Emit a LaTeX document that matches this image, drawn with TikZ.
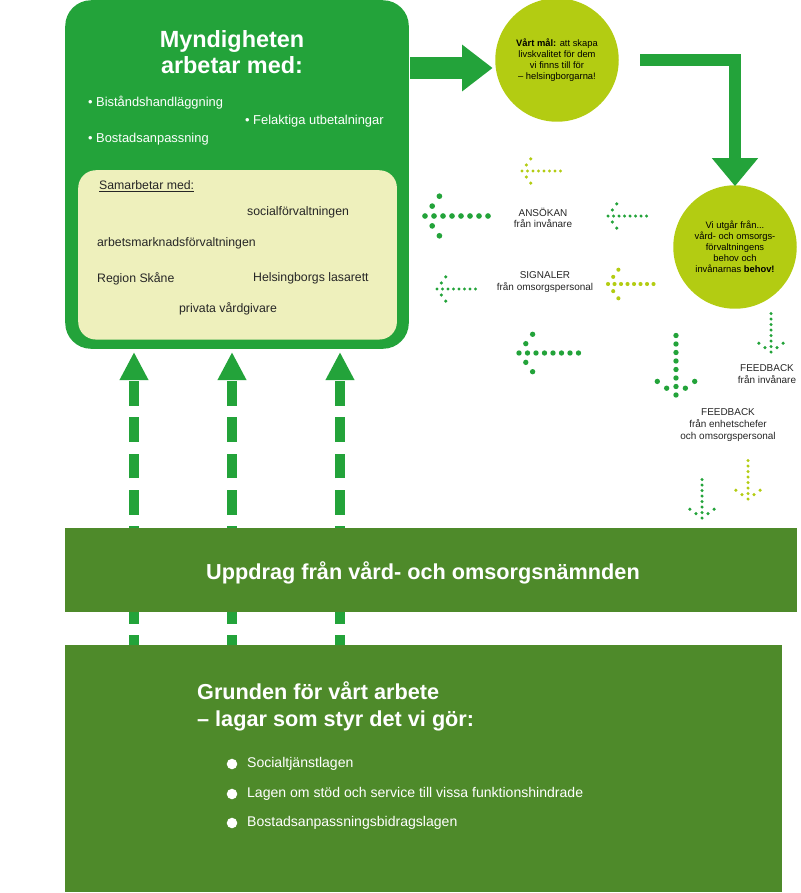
\documentclass[tikz,border=0pt]{standalone}
\usepackage{fontspec}
\setmainfont{Liberation Sans}
\usetikzlibrary{positioning,backgrounds,arrows.meta}
\definecolor{grongras}{HTML}{23A33A}
\definecolor{limegron}{HTML}{B3CC12}
\definecolor{morkgron}{HTML}{4E8A2A}
\definecolor{ljusgul}{HTML}{EEF0BC}
% dotted arrow pointing left: tip x, tip y, spacing, count, colour
\newcommand\prickvanster[5]{%
  \foreach \i in {0,...,#4}{\fill[#5] ({#1+\i*#3},#2) circle[radius=#3*0.27pt];}
  \foreach \k in {1,2}{%
    \fill[#5] ({#1+\k*#3*0.8},{#2-\k*#3*1.1}) circle[radius=#3*0.27pt];
    \fill[#5] ({#1+\k*#3*0.8},{#2+\k*#3*1.1}) circle[radius=#3*0.27pt];}}
% dotted arrow pointing down: tip x, tip y, spacing, count, colour
\newcommand\prickned[5]{%
  \foreach \i in {0,...,#4}{\fill[#5] (#1,{#2-\i*#3}) circle[radius=#3*0.27pt];}
  \foreach \k in {1,2}{%
    \fill[#5] ({#1-\k*#3*1.1},{#2-\k*#3*0.8}) circle[radius=#3*0.27pt];
    \fill[#5] ({#1+\k*#3*1.1},{#2-\k*#3*0.8}) circle[radius=#3*0.27pt];}}
\begin{document}
\begin{tikzpicture}[x=0.03cm,y=-0.03cm,
  vittext/.style={text=white,anchor=west,font=\fontsize{11}{13}\selectfont},
  mortext/.style={text=black!85,anchor=west,font=\fontsize{10.5}{12}\selectfont},
  smatext/.style={text=black!85,align=center,font=\fontsize{8.5}{10}\selectfont},
  cirkel/.style={circle,fill=limegron,align=center,inner sep=0pt,minimum size=124*0.85pt,font=\fontsize{8}{9.5}\selectfont},
  storpil/.style={draw=grongras,-{Triangle[length=26pt,width=38pt]}},
  streckpil/.style={draw=grongras,line width=8.5pt,dash pattern=on 21pt off 10pt,-{Triangle[length=24pt,width=23pt]}},
]
\useasboundingbox (0,0) rectangle (800,893);
% dashed arrows behind the bands
\foreach \xp/\namn in {134/a,232/b,340/c}{
  \coordinate (fot\namn) at (\xp,660);
  \coordinate (topp\namn) at (\xp,352);
  \draw[streckpil] (fot\namn) -- (topp\namn);
}
% main box
\node[fill=grongras,rounded corners=22pt,minimum width=345*0.85pt,minimum height=350*0.85pt,anchor=north west] (myndighet) at (65,0) {};
\node[text=white,align=center,font=\fontsize{20}{22}\selectfont\bfseries] (rubrik) at (232,52) {Myndigheten\\arbetar med:};
\node[vittext] (b1) at (84,103) {\textbullet\ Biståndshandläggning};
\node[vittext] (b2) at (241,121) {\textbullet\ Felaktiga utbetalningar};
\node[vittext] (b3) at (84,139) {\textbullet\ Bostadsanpassning};
\node[fill=ljusgul,rounded corners=15pt,minimum width=320*0.85pt,minimum height=170*0.85pt,anchor=north west] (samarbete) at (78,170) {};
\node[mortext] at (95,186) {\underline{Samarbetar med:}};
\node[mortext] at (243,212) {socialförvaltningen};
\node[mortext] at (93,243) {arbetsmarknadsförvaltningen};
\node[mortext] at (93,279) {Region Skåne};
\node[mortext] at (249,278) {Helsingborgs lasarett};
\node[mortext] at (175,309) {privata vårdgivare};
% circles
\node[cirkel] (mal) at (557,60) {\textbf{Vårt mål:} att skapa\\livskvalitet för dem\\vi finns till för\\– helsingborgarna!};
\node[cirkel] (utgar) at (735,247) {Vi utgår från...\\vård- och omsorgs-\\förvaltningens\\behov och\\invånarnas \textbf{behov!}};
% solid arrows
\coordinate (malpil) at (410,68);
\draw[storpil,line width=19pt] (malpil) -- ([xshift=-2pt]mal.west|-malpil);
\coordinate (horn) at (640,60);
\draw[storpil,line width=11pt,-{Triangle[length=24pt,width=38pt]}] (horn) -| ([yshift=-1pt]utgar.north);
% dotted arrows
\prickvanster{522}{171}{5.5}{7}{limegron}
\prickvanster{425}{216}{9}{7}{grongras}
\prickvanster{608}{216}{5.5}{7}{grongras}
\prickvanster{437}{289}{5.5}{7}{grongras}
\prickvanster{608}{284}{6.5}{7}{limegron}
\prickvanster{519}{353}{8.5}{7}{grongras}
\prickned{771}{352}{5.5}{7}{grongras}
\prickned{676}{395}{8.5}{7}{grongras}
\prickned{748}{499}{5.5}{7}{limegron}
\prickned{702}{518}{5.5}{7}{grongras}
% labels
\node[smatext] (ansokan) at (543,218) {ANSÖKAN\\från invånare};
\node[smatext] (signaler) at (545,282) {SIGNALER\\från omsorgspersonal};
\node[smatext] (fbinv) at (767,374) {FEEDBACK\\från invånare};
\node[smatext] (fbchef) at (728,425) {FEEDBACK\\från enhetschefer\\och omsorgspersonal};
% bands
\node[fill=morkgron,minimum width=735*0.85pt,minimum height=84*0.85pt,anchor=north west] (uppdrag) at (65,528) {};
\node[text=white,font=\fontsize{18.5}{20}\selectfont\bfseries] at (423,573) {Uppdrag från vård- och omsorgsnämnden};
\node[fill=morkgron,minimum width=720*0.85pt,minimum height=248*0.85pt,anchor=north west] (grund) at (65,645) {};
\node[text=white,anchor=west,align=left,font=\fontsize{18.5}{23}\selectfont\bfseries] (grundrubrik) at (193,706) {Grunden för vårt arbete\\– lagar som styr det vi gör:};
\foreach \yp/\lag in {764/Socialtjänstlagen,794/Lagen om stöd och service till vissa funktionshindrade,823/Bostadsanpassningsbidragslagen}{
  \fill[white] (232,\yp) circle[radius=4.5pt];
  \node[text=white,anchor=west,font=\fontsize{12}{14}\selectfont] at (243,\yp) {\lag};
}
\end{tikzpicture}
\end{document}
